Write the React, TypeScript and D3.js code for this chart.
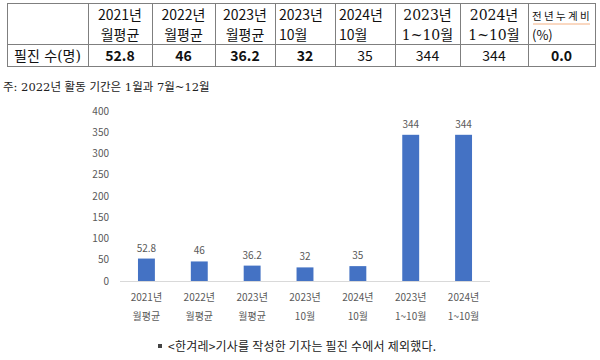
import * as d3 from 'd3';

const categories = ['2021년|월평균', '2022년|월평균', '2023년|월평균', '2023년|10월', '2024년|10월', '2023년|1~10월', '2024년|1~10월'];
const values = [52.8, 46, 36.2, 32, 35, 344, 344];
const yTicks = [0, 50, 100, 150, 200, 250, 300, 350, 400];
const tableValues = ['52.8', '46', '36.2', '32', '35', '344', '344', '0.0'];
const boldCells = [true, true, true, true, false, false, false, true];

const sans = '"Noto Sans CJK KR", "Noto Sans", sans-serif';
const serif = '"DejaVu Serif", "Liberation Serif", "Noto Sans CJK KR", serif';

// table column edges
const colEdges = [7, 88, 152, 215, 275, 335, 395, 460, 528, 595];

export default function App() {
  const width = 600;
  const height = 360;

  const x = d3.scaleBand<string>()
    .domain(categories)
    .range([120, 490])
    .paddingInner(0.68)
    .paddingOuter(0.34);

  const y = d3.scaleLinear()
    .domain([0, 400])
    .range([281, 111]);

  const cx = (i: number) => (colEdges[i] + colEdges[i + 1]) / 2;

  // header cells: [line1, line2, anchor, font, size]
  const header: [string, string, 'middle' | 'start', string, number][] = [
    ['2021년', '월평균', 'middle', sans, 14],
    ['2022년', '월평균', 'middle', sans, 14],
    ['2023년', '월평균', 'middle', sans, 14],
    ['2023년', '10월', 'start', sans, 14],
    ['2024년', '10월', 'start', sans, 14],
    ['2023년', '1~10월', 'middle', serif, 14],
    ['2024년', '1~10월', 'middle', serif, 14],
    ['전 년 누 계 비', '(%)', 'start', sans, 10.5],
  ];

  return (
    <div style={{ position: 'absolute', left: 0, top: 0 }}>
      <svg width={width} height={height} style={{ display: 'block', background: '#fff' }}>
        {/* table */}
        <g fill="none" stroke="#7f7f7f" strokeWidth={1}>
          <rect x={7.5} y={3.5} width={588} height={63} />
          <line x1={7.5} x2={595.5} y1={44.5} y2={44.5} />
          {colEdges.slice(1, -1).map(e => (
            <line key={e} x1={e + 0.5} x2={e + 0.5} y1={3.5} y2={66.5} />
          ))}
        </g>
        {header.map((h, i) => {
          const tx = h[2] === 'middle' ? cx(i + 1) : colEdges[i + 1] + 4;
          return (
            <g key={i} fontFamily={h[3]} fill="#111" textAnchor={h[2]}>
              <text x={tx} y={20} fontSize={h[4]}>{h[0]}</text>
              <text x={tx} y={40} fontSize={i === header.length - 1 ? 13 : 14}>{h[1]}</text>
            </g>
          );
        })}
        <line x1={533} x2={590} y1={24} y2={24} stroke="#f4b183" strokeWidth={1} />
        <text x={cx(0)} y={61} textAnchor="middle" fontFamily={serif} fontSize={14} fill="#111">필진 수(명)</text>
        {tableValues.map((v, i) => (
          <text key={i} x={cx(i + 1)} y={61} textAnchor="middle" fontFamily={sans}
            fontSize={14} fontWeight={boldCells[i] ? 'bold' : 'normal'} fill="#111">{v}</text>
        ))}

        <text x={3} y={91} fontFamily={serif} fontSize={11.5} fill="#222">주: 2022년 활동 기간은 1월과 7월~12월</text>

        {/* chart */}
        <g fontFamily={sans} fontSize={10} fill="#595959">
          {yTicks.map(t => (
            <text key={t} x={109} y={y(t)} dy="0.35em" textAnchor="end">{t}</text>
          ))}
        </g>
        <line x1={120} x2={490} y1={y(0) + 0.5} y2={y(0) + 0.5} stroke="#d9d9d9" strokeWidth={1} />
        {values.map((v, i) => (
          <rect key={i} x={x(categories[i])} y={y(v)} width={x.bandwidth()} height={y(0) - y(v)} fill="#4472c4" />
        ))}
        <g fontFamily={sans} fontSize={10} fill="#595959" textAnchor="middle">
          {values.map((v, i) => (
            <text key={i} x={(x(categories[i]) ?? 0) + x.bandwidth() / 2} y={y(v) - 7}>{v}</text>
          ))}
          {categories.map(c => {
            const [a, b] = c.split('|');
            const px = (x(c) ?? 0) + x.bandwidth() / 2;
            return (
              <g key={c}>
                <text x={px} y={301}>{a}</text>
                <text x={px} y={320}>{b}</text>
              </g>
            );
          })}
        </g>

        <rect x={158} y={344} width={4} height={4} fill="#444" />
        <text x={168} y={351} fontFamily={sans} fontSize={12} fill="#222" textLength={268} lengthAdjust="spacing">&lt;한겨레&gt;기사를 작성한 기자는 필진 수에서 제외했다.</text>
      </svg>
    </div>
  );
}
